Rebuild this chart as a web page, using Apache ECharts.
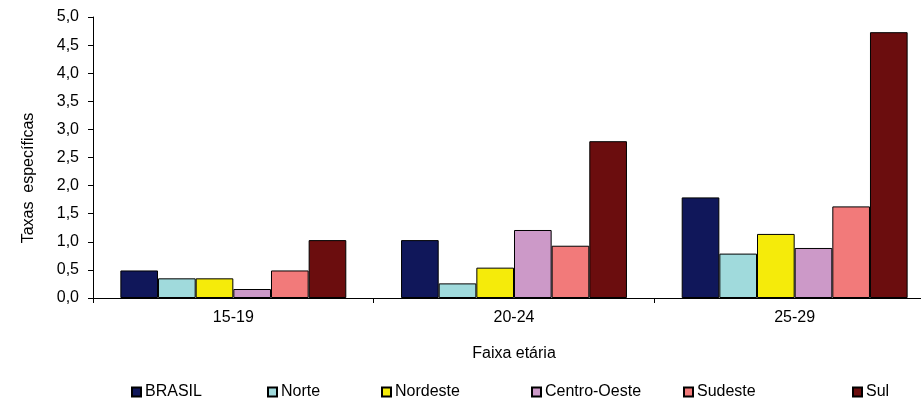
<!DOCTYPE html>
<html>
<head>
<meta charset="utf-8">
<script src="https://cdn.jsdelivr.net/npm/echarts@6/dist/echarts.min.js"></script>
<style>
html,body{margin:0;padding:0;background:#fff;overflow:hidden;}
#chart{width:960px;height:401px;}
</style>
</head>
<body>
<div id="chart"></div>
<script>
const categories = ['15-19', '20-24', '25-29'];
const seriesNames = ['BRASIL', 'Norte', 'Nordeste', 'Centro-Oeste', 'Sudeste', 'Sul'];
const brasil = [0.49, 1.03, 1.79];
const norte = [0.35, 0.26, 0.79];
const nordeste = [0.35, 0.54, 1.14];
const centroOeste = [0.16, 1.21, 0.89];
const sudeste = [0.49, 0.93, 1.63];
const sul = [1.03, 2.79, 4.73];
const yTicks = ['0,0','0,5','1,0','1,5','2,0','2,5','3,0','3,5','4,0','4,5','5,0'];

const values = [brasil, norte, nordeste, centroOeste, sudeste, sul];
const colors = ['#10175a', '#a0dadc', '#f5eb0a', '#cc99c8', '#f27a7a', '#6b0d0e'];
const legendLeft = [126, 262, 376, 526, 678, 847];
const font = 'Liberation Sans, Arial, sans-serif';

const chart = echarts.init(document.getElementById('chart'), null, {renderer: 'canvas'});
chart.setOption({
  animation: false,
  backgroundColor: '#fff',
  grid: {left: 93, top: 17, width: 842, height: 281, containLabel: false},
  legend: seriesNames.map((n, i) => ({
    data: [n], left: legendLeft[i], top: 379,
    itemWidth: 9, itemHeight: 9, itemGap: 0,
    icon: 'rect',
    textStyle: {fontFamily: font, fontSize: 16, color: '#000', padding: [0,0,0,-1]},
    selectedMode: false
  })),
  graphic: [{
    type: 'text', x: 29, y: 178, rotation: Math.PI / 2,
    style: {text: 'Taxas  específicas', font: '16px ' + font, fill: '#000',
      align: 'center', verticalAlign: 'middle'}
  }],
  xAxis: {
    type: 'category', data: categories,
    name: 'Faixa etária', nameLocation: 'middle', nameGap: 48,
    nameTextStyle: {fontFamily: font, fontSize: 16, color: '#000'},
    axisLine: {lineStyle: {color: '#000', width: 1}},
    axisTick: {show: true, length: 5, lineStyle: {color: '#000'}},
    axisLabel: {fontFamily: font, fontSize: 16, color: '#000', margin: 12}
  },
  yAxis: {
    type: 'value', min: 0, max: 5, interval: 0.5,
    splitLine: {show: false},
    axisLine: {show: true, lineStyle: {color: '#000', width: 1}},
    axisTick: {show: true, length: 5, lineStyle: {color: '#000'}},
    axisLabel: {fontFamily: font, fontSize: 16, color: '#000', margin: 14,
      formatter: (v) => yTicks[Math.round(v / 0.5)]}
  },
  series: seriesNames.map((n, i) => ({
    name: n, type: 'bar', data: values[i],
    barGap: '0%', barCategoryGap: '19.5%',
    itemStyle: {color: colors[i], borderColor: '#000', borderWidth: 1}
  }))
});
</script>
</body>
</html>
